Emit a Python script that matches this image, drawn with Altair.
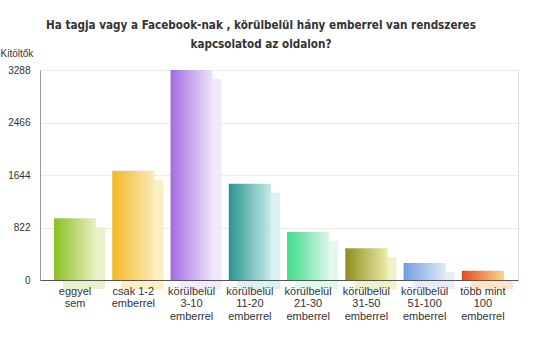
import altair as alt
import pandas as pd

categories = [
    "eggyel\nsem",
    "csak 1-2\nemberrel",
    "körülbelül\n3-10\nemberrel",
    "körülbelül\n11-20\nemberrel",
    "körülbelül\n21-30\nemberrel",
    "körülbelül\n31-50\nemberrel",
    "körülbelül\n51-100\nemberrel",
    "több mint\n100\nemberrel",
]
counts = [966, 1711, 3288, 1508, 751, 496, 266, 146]
dark_colors = ["#8cbf22", "#f2b824", "#a36be0", "#2a9490", "#3ddc8a", "#8e8e1e", "#6f9ee0", "#e8481a"]
light_colors = ["#e8f1c4", "#fbebb8", "#efe4fb", "#c6eae8", "#dcf8e9", "#ebeba6", "#e0eaf8", "#f9d68c"]
shadow_colors = ["#e4efc0", "#fbecb8", "#efe6fb", "#d2eeed", "#dcf7e9", "#efefc0", "#e2eaf8", "#fbe0c0"]
y_ticks = [0, 822, 1644, 2466, 3288]
title_lines = [
    "Ha tagja vagy a Facebook-nak , körülbelül hány emberrel van rendszeres",
    "kapcsolatod az oldalon?",
]
y_title = "Kitöltők"

df = pd.DataFrame({"cat": categories, "n": counts, "i": list(range(len(categories)))})

x = alt.X(
    "cat:N",
    sort=categories,
    scale=alt.Scale(paddingInner=0.276, paddingOuter=0.24),
    axis=alt.Axis(
        title=None,
        labelAngle=0,
        labelExpr="split(datum.label, '\\n')",
        labelFont="Liberation Sans",
        labelFontSize=11,
        labelColor="#333333",
        labelLineHeight=12.5,
        labelPadding=5,
        labelBaseline="top",
        ticks=False,
        domainColor="#555555",
        grid=False,
        zindex=1,
    ),
)
y = alt.Y(
    "n:Q",
    scale=alt.Scale(domain=[0, 3288], nice=False),
    axis=alt.Axis(
        values=y_ticks,
        format="d",
        title=y_title,
        titleAngle=0,
        titleAlign="left",
        titleBaseline="bottom",
        titleX=-40,
        titleY=-12,
        titleFont="Liberation Sans",
        titleFontSize=10,
        titleFontWeight="normal",
        titleColor="#333333",
        labelFont="Liberation Sans",
        labelFontSize=10,
        labelColor="#333333",
        labelPadding=10,
        ticks=False,
        domainColor="#9a9a9a",
        gridColor="#ececec",
    ),
)

base = alt.Chart(df)


def grad(c1, c2):
    return alt.Gradient(
        gradient="linear",
        stops=[alt.GradientStop(color=c1, offset=0), alt.GradientStop(color=c2, offset=1)],
        x1=0, x2=1, y1=0, y2=0,
    )


shadows = []
bars = []
for k in range(len(categories)):
    shadows.append(
        base.transform_filter(alt.datum.i == k)
        .mark_bar(color=shadow_colors[k], opacity=0.85, xOffset=9, yOffset=9, y2Offset=-8)
        .encode(x=x, y=y)
    )
    bars.append(
        base.transform_filter(alt.datum.i == k)
        .mark_bar(color=grad(dark_colors[k], light_colors[k]))
        .encode(x=x, y=y)
    )

chart = (
    alt.layer(*shadows, *bars)
    .properties(
        width=478,
        height=210,
        autosize=alt.AutoSizeParams(type="none"),
        padding={"left": 40, "top": 70, "right": 32, "bottom": 74},
        title=alt.Title(
            title_lines,
            font="DejaVu Sans Condensed, Liberation Sans, sans-serif",
            fontSize=11.6,
            fontWeight="bold",
            color="#333333",
            anchor="middle",
            dx=-18,
            dy=21,
            lineHeight=19,
            offset=18,
        ),
    )
    .configure_view(stroke=None)
    .configure(background="white")
)

chart.save("out.html", embed_options={"renderer": "svg", "actions": False})
